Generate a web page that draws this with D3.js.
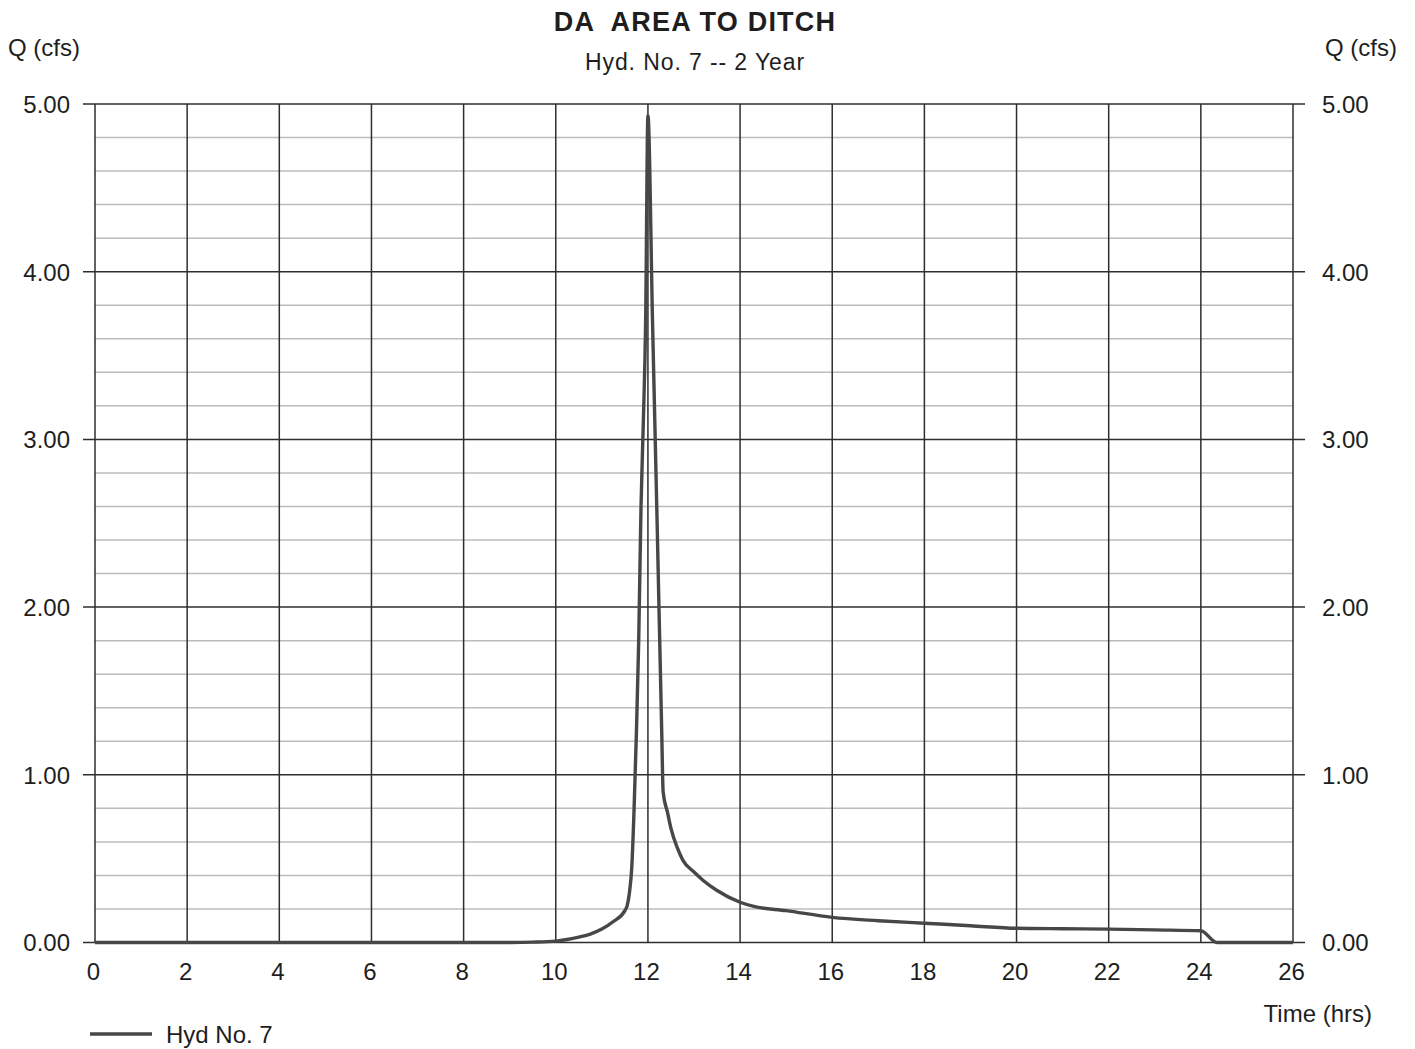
<!DOCTYPE html>
<html>
<head>
<meta charset="utf-8">
<script src="https://cdn.jsdelivr.net/npm/d3@7"></script>
<style>
  html, body { margin: 0; padding: 0; background: #fff; }
  svg { display: block; }
  text { font-family: "Liberation Sans", Arial, sans-serif; fill: #1e1e1e; white-space: pre; }
</style>
</head>
<body>
<svg id="chart" width="1415" height="1049"></svg>
<script>
// Hydrograph for Hyd. No. 7, 2-year storm
const timeHrs = [0, 2, 4, 6, 8, 9, 9.5, 10, 10.25, 10.5, 10.75, 11, 11.25, 11.5, 11.55, 11.6, 11.65,
  11.7, 11.75, 11.8, 11.85, 11.9, 11.95, 12, 12.1, 12.2, 12.3, 12.33, 12.43, 12.5, 12.63, 12.76,
  13, 13.2, 13.5, 14, 14.3, 15, 16, 17, 18, 19, 20, 21, 22, 23, 24, 24.35, 25, 26];
const flowCfs = [0, 0, 0, 0, 0, 0, 0.002, 0.008, 0.018, 0.032, 0.05, 0.08, 0.125, 0.19, 0.22, 0.3, 0.45,
  0.8, 1.25, 1.8, 2.6, 3.1, 3.7, 4.93, 3.7, 2.5, 1.25, 0.9, 0.77, 0.68, 0.57, 0.49,
  0.42, 0.37, 0.31, 0.24, 0.215, 0.19, 0.15, 0.13, 0.115, 0.1, 0.085, 0.082, 0.08, 0.075, 0.07, 0, 0, 0];

const xTicks = [0, 2, 4, 6, 8, 10, 12, 14, 16, 18, 20, 22, 24, 26];
const yTicks = [0, 1, 2, 3, 4, 5];
const yMinorTicks = [0.2, 0.4, 0.6, 0.8, 1.2, 1.4, 1.6, 1.8, 2.2, 2.4, 2.6, 2.8,
  3.2, 3.4, 3.6, 3.8, 4.2, 4.4, 4.6, 4.8];

const titleText = "DA  AREA TO DITCH";
const subtitleText = "Hyd. No. 7 -- 2 Year";
const yLabel = "Q (cfs)";
const xLabel = "Time (hrs)";
const seriesName = "Hyd No. 7";

const svg = d3.select("#chart");
const plotLeft = 95, plotRight = 1293, plotTop = 104, plotBottom = 942.5;

const x = d3.scaleLinear().domain([0, 26]).range([plotLeft, plotRight]);
const y = d3.scaleLinear().domain([0, 5]).range([plotBottom, plotTop]);

// Minor horizontal grid
svg.append("g").selectAll("line").data(yMinorTicks).join("line")
  .attr("x1", plotLeft).attr("x2", plotRight)
  .attr("y1", d => y(d)).attr("y2", d => y(d))
  .attr("stroke", "#bcbcbc").attr("stroke-width", 1.5);

// Major vertical grid
svg.append("g").selectAll("line").data(xTicks).join("line")
  .attr("x1", d => x(d)).attr("x2", d => x(d))
  .attr("y1", plotTop).attr("y2", plotBottom)
  .attr("stroke", "#2e2e2e").attr("stroke-width", 1.5);

// Major horizontal grid with ticks extending past both sides
svg.append("g").selectAll("line").data(yTicks).join("line")
  .attr("x1", plotLeft - 12).attr("x2", plotRight + 12)
  .attr("y1", d => y(d)).attr("y2", d => y(d))
  .attr("stroke", "#2e2e2e").attr("stroke-width", 1.5);

// Left and right value axes (labels only; the lines are drawn above)
const fmt = d3.format(".2f");
const yAxisL = d3.axisLeft(y).tickValues(yTicks).tickFormat(fmt).tickSize(0).tickPadding(0);
const yAxisR = d3.axisRight(y).tickValues(yTicks).tickFormat(fmt).tickSize(0).tickPadding(0);
const gL = svg.append("g").attr("transform", `translate(${plotLeft - 25},0)`).call(yAxisL);
const gR = svg.append("g").attr("transform", `translate(${plotRight + 29},0)`).call(yAxisR);
[gL, gR].forEach(g => {
  g.select(".domain").remove();
  g.selectAll("text").attr("font-size", 24).attr("dy", "0.35em")
    .style("font-family", '"Liberation Sans", Arial, sans-serif').attr("fill", "#1e1e1e");
});

// Time axis labels
const xAxis = d3.axisBottom(x).tickValues(xTicks).tickFormat(d3.format("d")).tickSize(0).tickPadding(0);
const gX = svg.append("g").attr("transform", `translate(-2,${plotBottom + 20})`).call(xAxis);
gX.select(".domain").remove();
gX.selectAll("text").attr("font-size", 24).attr("dy", "0.71em")
  .style("font-family", '"Liberation Sans", Arial, sans-serif').attr("fill", "#1e1e1e");

// Hydrograph line
const line = d3.line().x((d, i) => x(timeHrs[i])).y(d => y(d)).curve(d3.curveMonotoneX);
svg.append("path").datum(flowCfs)
  .attr("d", line)
  .attr("fill", "none").attr("stroke", "#474747").attr("stroke-width", 3.4)
  .attr("stroke-linejoin", "round");

// Titles
svg.append("text").attr("x", 695).attr("y", 31).attr("text-anchor", "middle")
  .attr("xml:space", "preserve")
  .attr("font-size", 27).attr("font-weight", "bold").attr("letter-spacing", 1.2).text(titleText);
svg.append("text").attr("x", 695).attr("y", 70).attr("text-anchor", "middle")
  .attr("font-size", 23).attr("letter-spacing", 0.9).text(subtitleText);

// Axis titles
svg.append("text").attr("x", 8).attr("y", 56).attr("font-size", 24).text(yLabel);
svg.append("text").attr("x", 1397).attr("y", 56).attr("text-anchor", "end").attr("font-size", 24).text(yLabel);
svg.append("text").attr("x", 1372).attr("y", 1022).attr("text-anchor", "end").attr("font-size", 24).text(xLabel);

// Legend
svg.append("line").attr("x1", 90).attr("x2", 152).attr("y1", 1034).attr("y2", 1034)
  .attr("stroke", "#474747").attr("stroke-width", 3.4);
svg.append("text").attr("x", 166).attr("y", 1043).attr("font-size", 24).text(seriesName);
</script>
</body>
</html>
